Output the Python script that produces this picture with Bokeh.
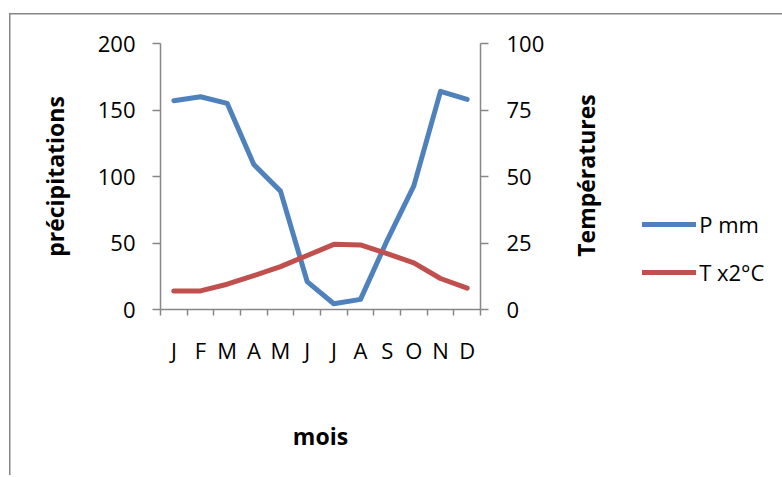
from bokeh.plotting import figure
from bokeh.models import Range1d, LinearAxis, FixedTicker, Legend, LegendItem, Label
from bokeh.embed import file_html
from bokeh.resources import INLINE
import math

# ---- data ----
months = ["J", "F", "M", "A", "M", "J", "J", "A", "S", "O", "N", "D"]
precip_mm = [157, 160, 155, 109, 89, 21, 4.3, 7.6, 52, 93, 164, 158]
temp_x2 = [14, 14, 19, 25.4, 32.2, 40.6, 49, 48.5, 42, 35, 23.3, 16]
left_ticks = [0, 50, 100, 150, 200]
right_ticks = [0, 25, 50, 75, 100]
series_names = ["P mm", "T x2°C"]

GRAY = "#868686"
FONT = "Open Sans"

xs = [i + 0.5 for i in range(len(months))]

p = figure(frame_width=320, frame_height=266,
           min_border_left=160, min_border_right=302,
           min_border_top=43, min_border_bottom=166,
           x_range=Range1d(0, len(months)), y_range=Range1d(0, 200),
           output_backend="svg", toolbar_location=None,
           x_axis_type=None, y_axis_type=None)
p.outline_line_color = None
p.background_fill_color = "white"
p.border_fill_color = None
p.extra_y_ranges = {"temp": Range1d(0, 100)}
# outer chart-area border (only its top and left edges are in view)
p.styles = {
    "background-color": "white",
    "background-image": f"linear-gradient({GRAY},{GRAY}), linear-gradient({GRAY},{GRAY})",
    "background-size": "1.5px 100%, 100% 1.5px",
    "background-position": "9px 13px, 9px 13px",
    "background-repeat": "no-repeat",
}

# bottom axis
xaxis = LinearAxis(ticker=FixedTicker(ticks=xs, minor_ticks=list(range(len(months) + 1))),
                   major_label_overrides={x: m for x, m in zip(xs, months)})
xaxis.major_tick_line_color = None
xaxis.major_tick_out = 0
xaxis.minor_tick_in = 0
xaxis.minor_tick_out = 6
xaxis.minor_tick_line_color = GRAY
xaxis.minor_tick_line_width = 1.5
xaxis.axis_line_color = GRAY
xaxis.axis_line_width = 1.5
xaxis.major_label_text_font = FONT
xaxis.major_label_text_font_size = "22px"
xaxis.major_label_text_color = "black"
xaxis.major_label_standoff = 19
xaxis.axis_label = "mois"
xaxis.axis_label_text_font = FONT
xaxis.axis_label_text_font_size = "23px"
xaxis.axis_label_text_font_style = "bold"
xaxis.axis_label_text_color = "black"
xaxis.axis_label_standoff = 52
p.add_layout(xaxis, "below")

# left axis
yaxis = LinearAxis(ticker=FixedTicker(ticks=left_ticks))
yaxis.major_tick_in = 0
yaxis.major_tick_out = 8
yaxis.major_tick_line_color = GRAY
yaxis.major_tick_line_width = 1.5
yaxis.minor_tick_line_color = None
yaxis.axis_line_color = GRAY
yaxis.axis_line_width = 1.5
yaxis.major_label_text_font = FONT
yaxis.major_label_text_font_size = "22px"
yaxis.major_label_text_color = "black"
yaxis.major_label_standoff = 17
yaxis.axis_label = "précipitations"
yaxis.axis_label_text_font = FONT
yaxis.axis_label_text_font_size = "23px"
yaxis.axis_label_text_font_style = "bold"
yaxis.axis_label_text_color = "black"
yaxis.axis_label_standoff = 24
p.add_layout(yaxis, "left")

# right axis
raxis = LinearAxis(y_range_name="temp", ticker=FixedTicker(ticks=right_ticks))
raxis.major_tick_in = 0
raxis.major_tick_out = 8
raxis.major_tick_line_color = GRAY
raxis.major_tick_line_width = 1.5
raxis.minor_tick_line_color = None
raxis.axis_line_color = GRAY
raxis.axis_line_width = 1.5
raxis.major_label_text_font = FONT
raxis.major_label_text_font_size = "22px"
raxis.major_label_text_color = "black"
raxis.major_label_standoff = 18
p.add_layout(raxis, "right")

# right axis title (reads bottom to top)
rtitle = Label(x=38, y=134, x_units="screen", y_units="screen",
               text="Températures", angle=math.pi / 2,
               text_align="center", text_baseline="middle",
               text_font=FONT, text_font_size="23px", text_font_style="bold",
               text_color="black")
p.add_layout(rtitle, "right")

# grid
p.ygrid.ticker = FixedTicker(ticks=left_ticks)
p.ygrid.grid_line_color = GRAY
p.ygrid.grid_line_width = 1.5
p.xgrid.grid_line_color = None

# series
r1 = p.line(xs, precip_mm, line_color="#4F81BD", line_width=5,
            line_cap="round", line_join="round")
r2 = p.line(xs, temp_x2, line_color="#C0504D", line_width=5,
            line_cap="round", line_join="round")

legend = Legend(items=[LegendItem(label=series_names[0], renderers=[r1]),
                       LegendItem(label=series_names[1], renderers=[r2])],
                location=(-234, 22), glyph_width=54, glyph_height=20,
                label_height=20, spacing=18, padding=0, margin=0,
                label_standoff=3, border_line_color=None,
                background_fill_alpha=0,
                label_text_font=FONT, label_text_font_size="22px",
                label_text_color="black")
p.add_layout(legend, "right")

open("out.html", "w").write(file_html(p, INLINE))
